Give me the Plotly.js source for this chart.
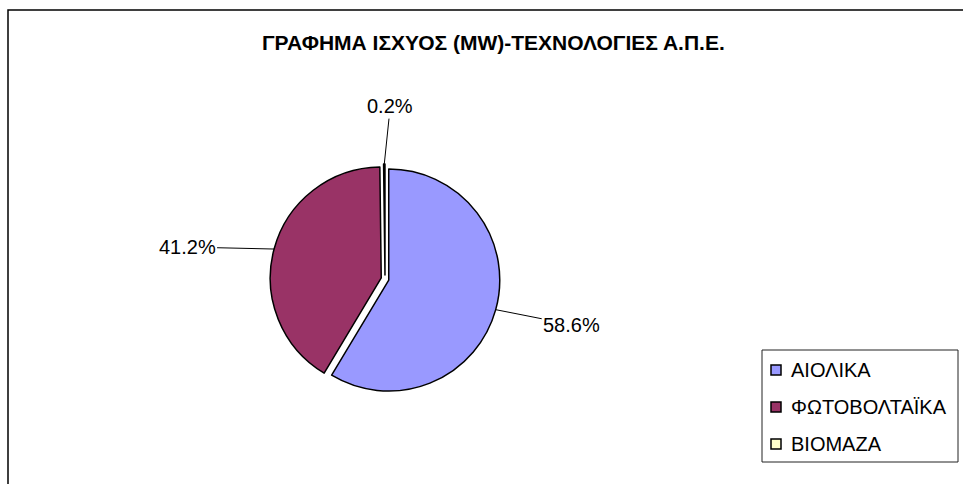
<!DOCTYPE html>
<html>
<head>
<meta charset="utf-8">
<script src="https://cdn.plot.ly/plotly-3.0.1.min.js"></script>
<style>html,body{margin:0;padding:0;background:#fff;}#chart{width:963px;height:484px;}</style>
</head>
<body>
<div id="chart"></div>
<script>
// ---- data ----
const categories = ['ΑΙΟΛΙΚΑ', 'ΦΩΤΟΒΟΛΤΑΪΚΑ', 'ΒΙΟΜΑΖΑ'];
const shares = [58.6, 41.2, 0.2];
const sliceColors = ['#9999FF', '#993366', '#FFFFCC'];
const chartTitle = 'ΓΡΑΦΗΜΑ ΙΣΧΥΟΣ (MW)-ΤΕΧΝΟΛΟΓΙΕΣ Α.Π.Ε.';

// ---- layout constants (pixels) ----
const W = 963, H = 484;
const cx = 385, cy = 279, R = 111, pull = 0.035;
const half = R * (1 + pull);
const px = x => x / W;
const py = y => 1 - y / H;

// label offsets (text centre relative to arrow tip, pixels)
const labelOffsets = [[76, 15], [-87, -2], [6, -58]];

const total = shares.reduce((a, b) => a + b, 0);
const annotations = [];
let cum = 0;
shares.forEach((v, i) => {
  const mid = (cum + v / 2) / total * 2 * Math.PI;
  cum += v;
  const tx = cx + half * Math.sin(mid);
  const ty = cy - half * Math.cos(mid);
  annotations.push({
    xref: 'paper', yref: 'paper', x: px(tx), y: py(ty),
    text: (v / total * 100).toFixed(1) + '%',
    showarrow: true, arrowhead: 0, arrowwidth: 1, arrowcolor: '#000',
    ax: labelOffsets[i][0], ay: labelOffsets[i][1],
    font: {family: 'Liberation Sans, Arial, sans-serif', size: 20, color: '#000'},
    xanchor: 'center', yanchor: 'middle'
  });
});

annotations.push({
  xref: 'paper', yref: 'paper', x: px(493), y: py(42),
  text: '<b>' + chartTitle + '</b>', showarrow: false,
  font: {family: 'Liberation Sans, Arial, sans-serif', size: 21, color: '#000'},
  xanchor: 'center', yanchor: 'middle'
});

// custom legend
const shapes = [
  {type: 'rect', xref: 'paper', yref: 'paper', x0: px(8), y0: py(10), x1: 1.2, y1: -0.2,
   line: {color: '#000', width: 1.5}, fillcolor: 'rgba(0,0,0,0)', layer: 'below'},
  {type: 'rect', xref: 'paper', yref: 'paper', x0: px(762), y0: py(350), x1: px(958), y1: py(462),
   line: {color: '#222', width: 1}, fillcolor: 'rgba(0,0,0,0)'}
];
categories.forEach((c, i) => {
  const yc = 370 + i * 37;
  shapes.push({type: 'rect', xref: 'paper', yref: 'paper',
    x0: px(771), x1: px(781), y0: py(yc - 5), y1: py(yc + 5),
    line: {color: '#000', width: 1.5}, fillcolor: sliceColors[i]});
  annotations.push({xref: 'paper', yref: 'paper', x: px(789), y: py(yc),
    text: c, showarrow: false, xanchor: 'left', yanchor: 'middle',
    font: {family: 'Liberation Sans, Arial, sans-serif', size: 20, color: '#000'}});
});

const data = [{
  type: 'pie',
  labels: categories,
  values: shares,
  sort: false,
  direction: 'clockwise',
  rotation: 0,
  pull: shares.map(() => pull),
  marker: {colors: sliceColors, line: {color: '#000', width: 1.5}},
  textinfo: 'none',
  textposition: 'none',
  hoverinfo: 'label+percent',
  showlegend: false,
  domain: {x: [px(cx - half), px(cx + half)], y: [py(cy + half), py(cy - half)]}
}];

const layout = {
  width: W, height: H,
  margin: {l: 0, r: 0, t: 0, b: 0},
  paper_bgcolor: '#fff',
  showlegend: false,
  annotations: annotations,
  shapes: shapes
};

Plotly.newPlot('chart', data, layout, {displayModeBar: false, staticPlot: true});
</script>
</body>
</html>
